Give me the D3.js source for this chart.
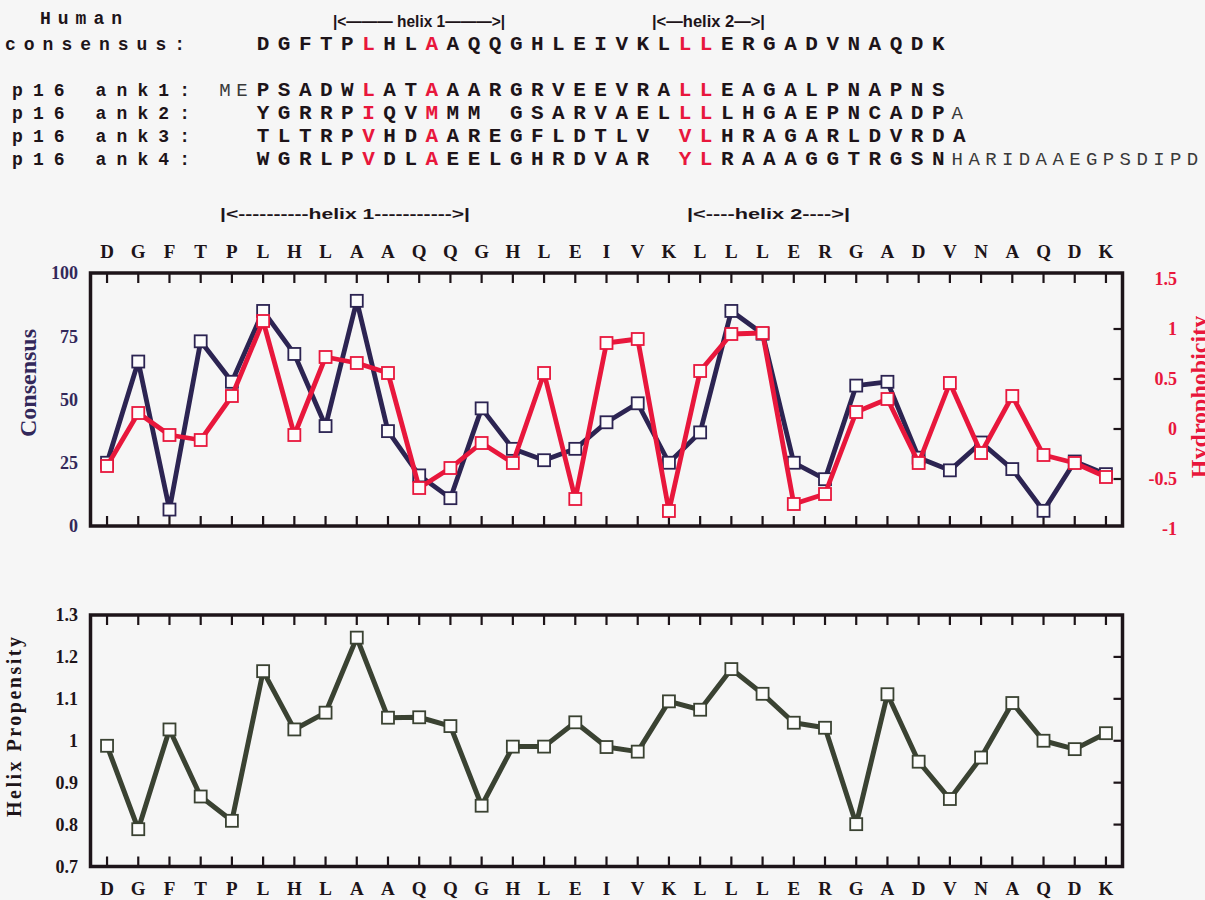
<!DOCTYPE html>
<html>
<head>
<meta charset="utf-8">
<script src="https://cdn.jsdelivr.net/npm/d3@7"></script>
<style>
  body { margin: 0; background: #f6f6f6; }
  svg { display: block; }
</style>
</head>
<body>
<svg id="fig" width="1205" height="900"></svg>
<script>
// Residues of the human ankyrin-repeat consensus
const residues = ["D","G","F","T","P","L","H","L","A","A","Q","Q","G","H","L","E","I","V","K","L","L","L","E","R","G","A","D","V","N","A","Q","D","K"];
// Per-position profiles
const consensus = [25,65,6.5,73,57,85,68,39.5,89,37.5,20,11,46.5,30.5,26,30.5,41,48.5,25,37,85,76,25,18.5,55.5,57,27,22,33,22.5,6,25.5,20.5];
const hydrophobicity = [-0.37,0.16,-0.06,-0.11,0.33,1.08,-0.06,0.72,0.66,0.56,-0.59,-0.39,-0.14,-0.34,0.56,-0.70,0.86,0.90,-0.82,0.58,0.95,0.96,-0.75,-0.65,0.17,0.30,-0.34,0.46,-0.24,0.33,-0.26,-0.34,-0.48];
const helixPropensity = [0.988,0.789,1.027,0.867,0.809,1.166,1.027,1.067,1.246,1.055,1.056,1.035,0.845,0.986,0.986,1.044,0.985,0.974,1.094,1.074,1.171,1.112,1.043,1.031,0.801,1.111,0.950,0.861,0.960,1.090,1.000,0.980,1.018];

// Tick values
const consensusTicks = [0,25,50,75,100];
const hydroTicks = [-1,-0.5,0,0.5,1,1.5];
const helixTicks = [0.7,0.8,0.9,1,1.1,1.2,1.3];

// Sequence alignment block
const consensusSeq = "DGFTPLHLAAQQGHLEIVKLLLERGADVNAQDK";
const rowLabels = ["p16 ank1:", "p16 ank2:", "p16 ank3:", "p16 ank4:"];
const rowPrefix = ["ME", "", "", ""];
const rowSeq = [
  "PSADWLATAAARGRVEEVRALLEAGALPNAPNS",
  "YGRRPIQVMMM GSARVAELLLLHGAEPNCADP",
  "TLTRPVHDAAREGFLDTLV VLHRAGARLDVRDA",
  "WGRLPVDLAEELGHRDVAR YLRAAAGGTRGSN"
];
const rowSuffix = ["", "A", "", "HARIDAAEGPSDIPD"];
const highlightCols = [5, 8, 20, 21];

const C = {
  bg: "#f6f6f6",
  ink: "#1d1419",
  navy: "#2c2452",
  navyText: "#33285a",
  red: "#e8173c",
  olive: "#3a4232",
  thin: "#3a3a3a"
};

const svg = d3.select("#fig");
svg.append("rect").attr("width", 1205).attr("height", 900).attr("fill", C.bg);

// ---------- alignment text ----------
const mono = "'Liberation Mono', 'DejaVu Sans Mono', monospace";
const col = d3.scaleLinear().domain([0, 1]).range([263, 284.1]);
const seqFont = 21;

const tb = svg.append("g");
tb.append("text").attr("x", 40).attr("y", 24).attr("font-family", mono).attr("font-weight", "bold")
  .attr("font-size", 18).attr("fill", C.ink).attr("textLength", 82).attr("lengthAdjust", "spacing").text("Human");
tb.append("text").attr("x", 5).attr("y", 50).attr("font-family", mono).attr("font-weight", "bold")
  .attr("font-size", 18).attr("fill", C.ink).attr("textLength", 180).attr("lengthAdjust", "spacing").text("consensus:");

function seqRow(str, y, startCol) {
  const g = tb.append("g");
  str.split("").forEach((ch, i) => {
    if (ch === " ") return;
    const c = startCol + i;
    g.append("text").attr("x", col(c)).attr("y", y)
      .attr("text-anchor", "middle").attr("font-family", mono).attr("font-weight", "bold")
      .attr("font-size", seqFont)
      .attr("fill", highlightCols.includes(c) ? C.red : C.ink).text(ch);
  });
}
function thinRun(str, y, xStart, step) {
  str.split("").forEach((ch, i) => {
    tb.append("text").attr("x", xStart + i * step).attr("y", y)
      .attr("text-anchor", "middle").attr("font-family", mono)
      .attr("font-size", 19).attr("fill", C.thin).text(ch);
  });
}

seqRow(consensusSeq, 50, 0);

const rowY = [96, 119, 142, 165];
rowLabels.forEach((lab, r) => {
  tb.append("text").attr("x", 12).attr("y", rowY[r]).attr("font-family", mono).attr("font-weight", "bold")
    .attr("font-size", 18).attr("fill", C.ink).attr("textLength", 178).attr("lengthAdjust", "spacing").text(lab);
  seqRow(rowSeq[r], rowY[r], 0);
  const pre = rowPrefix[r];
  if (pre) thinRun(pre, rowY[r], col(-1) - (pre.length - 1) * 17, 17);
  const suf = rowSuffix[r];
  if (suf) thinRun(suf, rowY[r], col(rowSeq[r].length) - 2, 16.8);
});

// helix markers
const sans = "'Liberation Sans Narrow', 'Liberation Sans', Arial, sans-serif";
function helixMark(text, x0, x1, y, size) {
  svg.append("text").attr("x", x0).attr("y", y).attr("font-family", sans).attr("font-weight", "bold")
    .attr("font-size", size).attr("fill", C.ink)
    .attr("textLength", x1 - x0).attr("lengthAdjust", "spacingAndGlyphs").text(text);
}
helixMark("|<\u2014\u2014\u2014 helix 1\u2014\u2014\u2014>|", 333, 505, 27, 17);
helixMark("|<\u2014helix 2\u2014>|", 652, 765, 27, 17);
helixMark("|<----------helix 1----------->|", 220, 470, 219, 15);
helixMark("|<----helix 2---->|", 687, 850, 219, 15);

// ---------- shared x ----------
const frameL = 90.5, frameR = 1122.5;
const x = d3.scalePoint().domain(d3.range(residues.length)).range([frameL, frameR]).padding(0.53);
const serif = "'Liberation Serif', 'Times New Roman', serif";

function frame(top, bottom) {
  const g = svg.append("g");
  g.append("rect").attr("x", frameL).attr("y", top).attr("width", frameR - frameL).attr("height", bottom - top)
    .attr("fill", "none").attr("stroke", C.ink).attr("stroke-width", 3.5);
  residues.forEach((_, i) => {
    g.append("line").attr("x1", x(i)).attr("x2", x(i)).attr("y1", top).attr("y2", top + 10)
      .attr("stroke", C.ink).attr("stroke-width", 2.2);
    g.append("line").attr("x1", x(i)).attr("x2", x(i)).attr("y1", bottom - 10).attr("y2", bottom)
      .attr("stroke", C.ink).attr("stroke-width", 2.2);
  });
  return g;
}
function residueLabels(y) {
  svg.append("g").selectAll("text").data(residues).join("text")
    .attr("x", (d, i) => x(i)).attr("y", y).attr("text-anchor", "middle")
    .attr("font-family", serif).attr("font-weight", "bold").attr("font-size", 19)
    .attr("fill", C.ink).text(d => d);
}
function series(values, yScale, color, width) {
  const g = svg.append("g");
  g.append("path").datum(values)
    .attr("d", d3.line().x((d, i) => x(i)).y(d => yScale(d)))
    .attr("fill", "none").attr("stroke", color).attr("stroke-width", width)
    .attr("stroke-linejoin", "round");
  g.selectAll("rect").data(values).join("rect")
    .attr("x", (d, i) => x(i) - 6).attr("y", d => yScale(d) - 6)
    .attr("width", 12).attr("height", 12)
    .attr("fill", "#fcfcfc").attr("stroke", color).attr("stroke-width", 1.8);
}

// ---------- chart 1: consensus & hydrophobicity ----------
const t1 = 273, b1 = 526;
const yL = d3.scaleLinear().domain([0, 100]).range([b1, t1]);
const yR = d3.scaleLinear().domain([-1, 1.5]).range([b1 + 3, t1 + 6]);
residueLabels(258);
const f1 = frame(t1, b1);
hydroTicks.filter(v => v > -1 && v < 1.5).forEach(v => {
  f1.append("line").attr("x1", frameR - 9).attr("x2", frameR).attr("y1", yR(v)).attr("y2", yR(v))
    .attr("stroke", C.ink).attr("stroke-width", 2.2);
});
svg.append("g").selectAll("text").data(consensusTicks).join("text")
  .attr("x", 78).attr("y", d => yL(d)).attr("dy", "0.35em").attr("text-anchor", "end")
  .attr("font-family", serif).attr("font-weight", "bold").attr("font-size", 18)
  .attr("fill", C.navyText).text(d => d);
svg.append("g").selectAll("text").data(hydroTicks).join("text")
  .attr("x", 1177).attr("y", d => yR(d)).attr("dy", "0.35em").attr("text-anchor", "end")
  .attr("font-family", serif).attr("font-weight", "bold").attr("font-size", 18)
  .attr("fill", C.red).text(d => d);
svg.append("text").attr("transform", "translate(36,383) rotate(-90)").attr("text-anchor", "middle")
  .attr("font-family", serif).attr("font-weight", "bold").attr("font-size", 24)
  .attr("fill", C.navyText).text("Consensus");
svg.append("text").attr("transform", "translate(1207,397) rotate(-90)").attr("text-anchor", "middle")
  .attr("font-family", serif).attr("font-weight", "bold").attr("font-size", 24)
  .attr("fill", C.red).text("Hydrophobicity");

series(consensus, yL, C.navy, 4.8);
series(hydrophobicity, yR, C.red, 4.8);

// ---------- chart 2: helix propensity ----------
const t2 = 615, b2 = 866.5;
const yH = d3.scaleLinear().domain([0.7, 1.3]).range([b2, t2]);
const f2 = frame(t2, b2);
helixTicks.filter(v => v > 0.7 && v < 1.3).forEach(v => {
  f2.append("line").attr("x1", frameR - 9).attr("x2", frameR).attr("y1", yH(v)).attr("y2", yH(v))
    .attr("stroke", C.ink).attr("stroke-width", 2.2);
});
svg.append("g").selectAll("text").data(helixTicks).join("text")
  .attr("x", 78).attr("y", d => yH(d)).attr("dy", "0.35em").attr("text-anchor", "end")
  .attr("font-family", serif).attr("font-weight", "bold").attr("font-size", 18)
  .attr("fill", C.ink).text(d => d);
svg.append("text").attr("transform", "translate(21,727) rotate(-90)").attr("text-anchor", "middle")
  .attr("font-family", serif).attr("font-weight", "bold").attr("font-size", 20)
  .attr("fill", C.ink).attr("textLength", 180).attr("lengthAdjust", "spacing").text("Helix  Propensity");
residueLabels(895);
series(helixPropensity, yH, C.olive, 5);
</script>
</body>
</html>
